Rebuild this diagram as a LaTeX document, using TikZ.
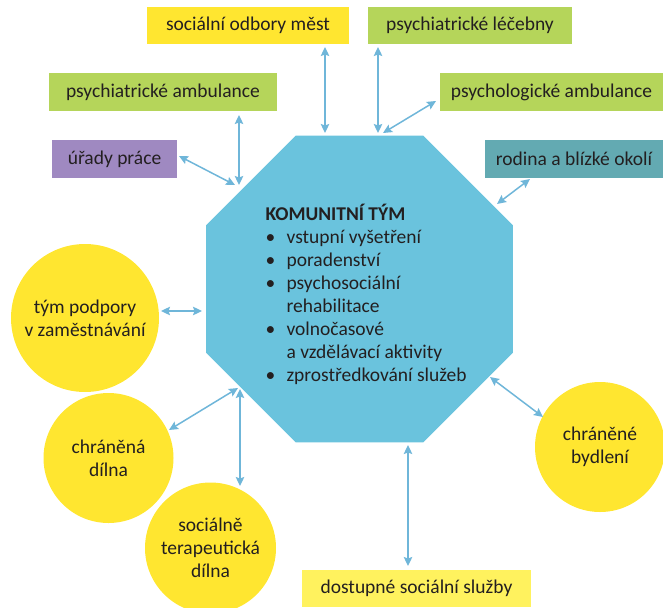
\documentclass[tikz,border=0pt]{standalone}
\usepackage{fontspec}
\setmainfont{Carlito}
\usetikzlibrary{shapes.geometric,arrows.meta}
\definecolor{octcol}{HTML}{6AC3DD}
\definecolor{arrcol}{HTML}{6FB6D9}
\definecolor{yelcol}{HTML}{FFE630}
\definecolor{grncol}{HTML}{B5D55A}
\definecolor{purcol}{HTML}{9F89C1}
\definecolor{tealcol}{HTML}{63AAB2}
\definecolor{lyelcol}{HTML}{FFF25E}
\definecolor{txtcol}{HTML}{231F20}
\begin{document}
\begin{tikzpicture}[x=1pt,y=-1pt,
  every node/.style={text=txtcol,font=\fontsize{19.5}{23}\selectfont},
  lbox/.style={rectangle,inner sep=0pt,minimum height=37.5pt},
  ball/.style={circle,fill=yelcol,inner sep=0pt,align=center},
  arr/.style={draw=arrcol,line width=1.5pt,{Stealth[length=9pt,width=8.5pt,inset=1.5pt]}-{Stealth[length=9pt,width=8.5pt,inset=1.5pt]}}]
\useasboundingbox (0,0) rectangle (663,607);
% central octagon
\node[regular polygon,regular polygon sides=8,minimum size=332.2pt,inner sep=0pt,outer sep=0pt,fill=octcol] (oct) at (359.5,289) {};
\node[anchor=west,align=left] (kom) at (262,294) {%
  \textbf{KOMUNITNÍ TÝM}\\
  \makebox[21pt][l]{•}vstupní vyšetření\\
  \makebox[21pt][l]{•}poradenství\\
  \makebox[21pt][l]{•}psychosociální\\
  \hspace*{21pt}rehabilitace\\
  \makebox[21pt][l]{•}volnočasové\\
  \hspace*{21pt}a vzdělávací aktivity\\
  \makebox[21pt][l]{•}zprostředkování služeb};
% boxes
\node[lbox,fill=yelcol,minimum width=202pt] (soc) at (248,25.5) {sociální odbory měst};
\node[lbox,fill=grncol,minimum width=204pt] (lec) at (470,25.5) {psychiatrické léčebny};
\node[lbox,fill=grncol,minimum width=228pt] (pamb) at (163,92) {psychiatrické ambulance};
\node[lbox,fill=grncol,minimum width=223pt] (psyamb) at (551.5,92) {psychologické ambulance};
\node[lbox,fill=purcol,minimum width=125pt] (urad) at (114.5,159) {úřady práce};
\node[lbox,fill=tealcol,minimum width=178pt] (rod) at (574,159) {rodina a blízké okolí};
\node[lbox,fill=lyelcol,minimum width=229pt] (dost) at (416.5,588.5) {dostupné sociální služby};
% circles
\node[ball,minimum size=148pt] (tym) at (85,318) {tým podpory\\v zaměstnávání};
\node[ball,minimum size=130pt] (chdil) at (108.5,458) {chráněná\\dílna};
\node[ball,minimum size=131pt] (soct) at (210.5,548) {sociálně\\terapeutická\\dílna};
\node[ball,minimum size=130pt] (bydl) at (600,447) {chráněné\\bydlení};
% connector end points
\coordinate (s1) at (325,47);  \coordinate (e1) at (325,133);
\coordinate (s2) at (378,47);  \coordinate (e2) at (378,133);
\coordinate (s3) at (436,101); \coordinate (e3) at (383,133);
\coordinate (s4) at (239,115); \coordinate (e4) at (239,185);
\coordinate (s5) at (179,156); \coordinate (e5) at (235,185);
\coordinate (s6) at (530,179); \coordinate (e6) at (497,204);
\coordinate (s7) at (161,311); \coordinate (e7) at (202,311);
\coordinate (s8) at (169,430); \coordinate (e8) at (238,388);
\coordinate (s9) at (240,486); \coordinate (e9) at (240,389);
\coordinate (s10) at (543,417); \coordinate (e10) at (490,377);
\coordinate (s11) at (408,566); \coordinate (e11) at (408,445);
\foreach \i in {1,...,11} {\draw[arr] (s\i) -- (e\i);}
\end{tikzpicture}
\end{document}
